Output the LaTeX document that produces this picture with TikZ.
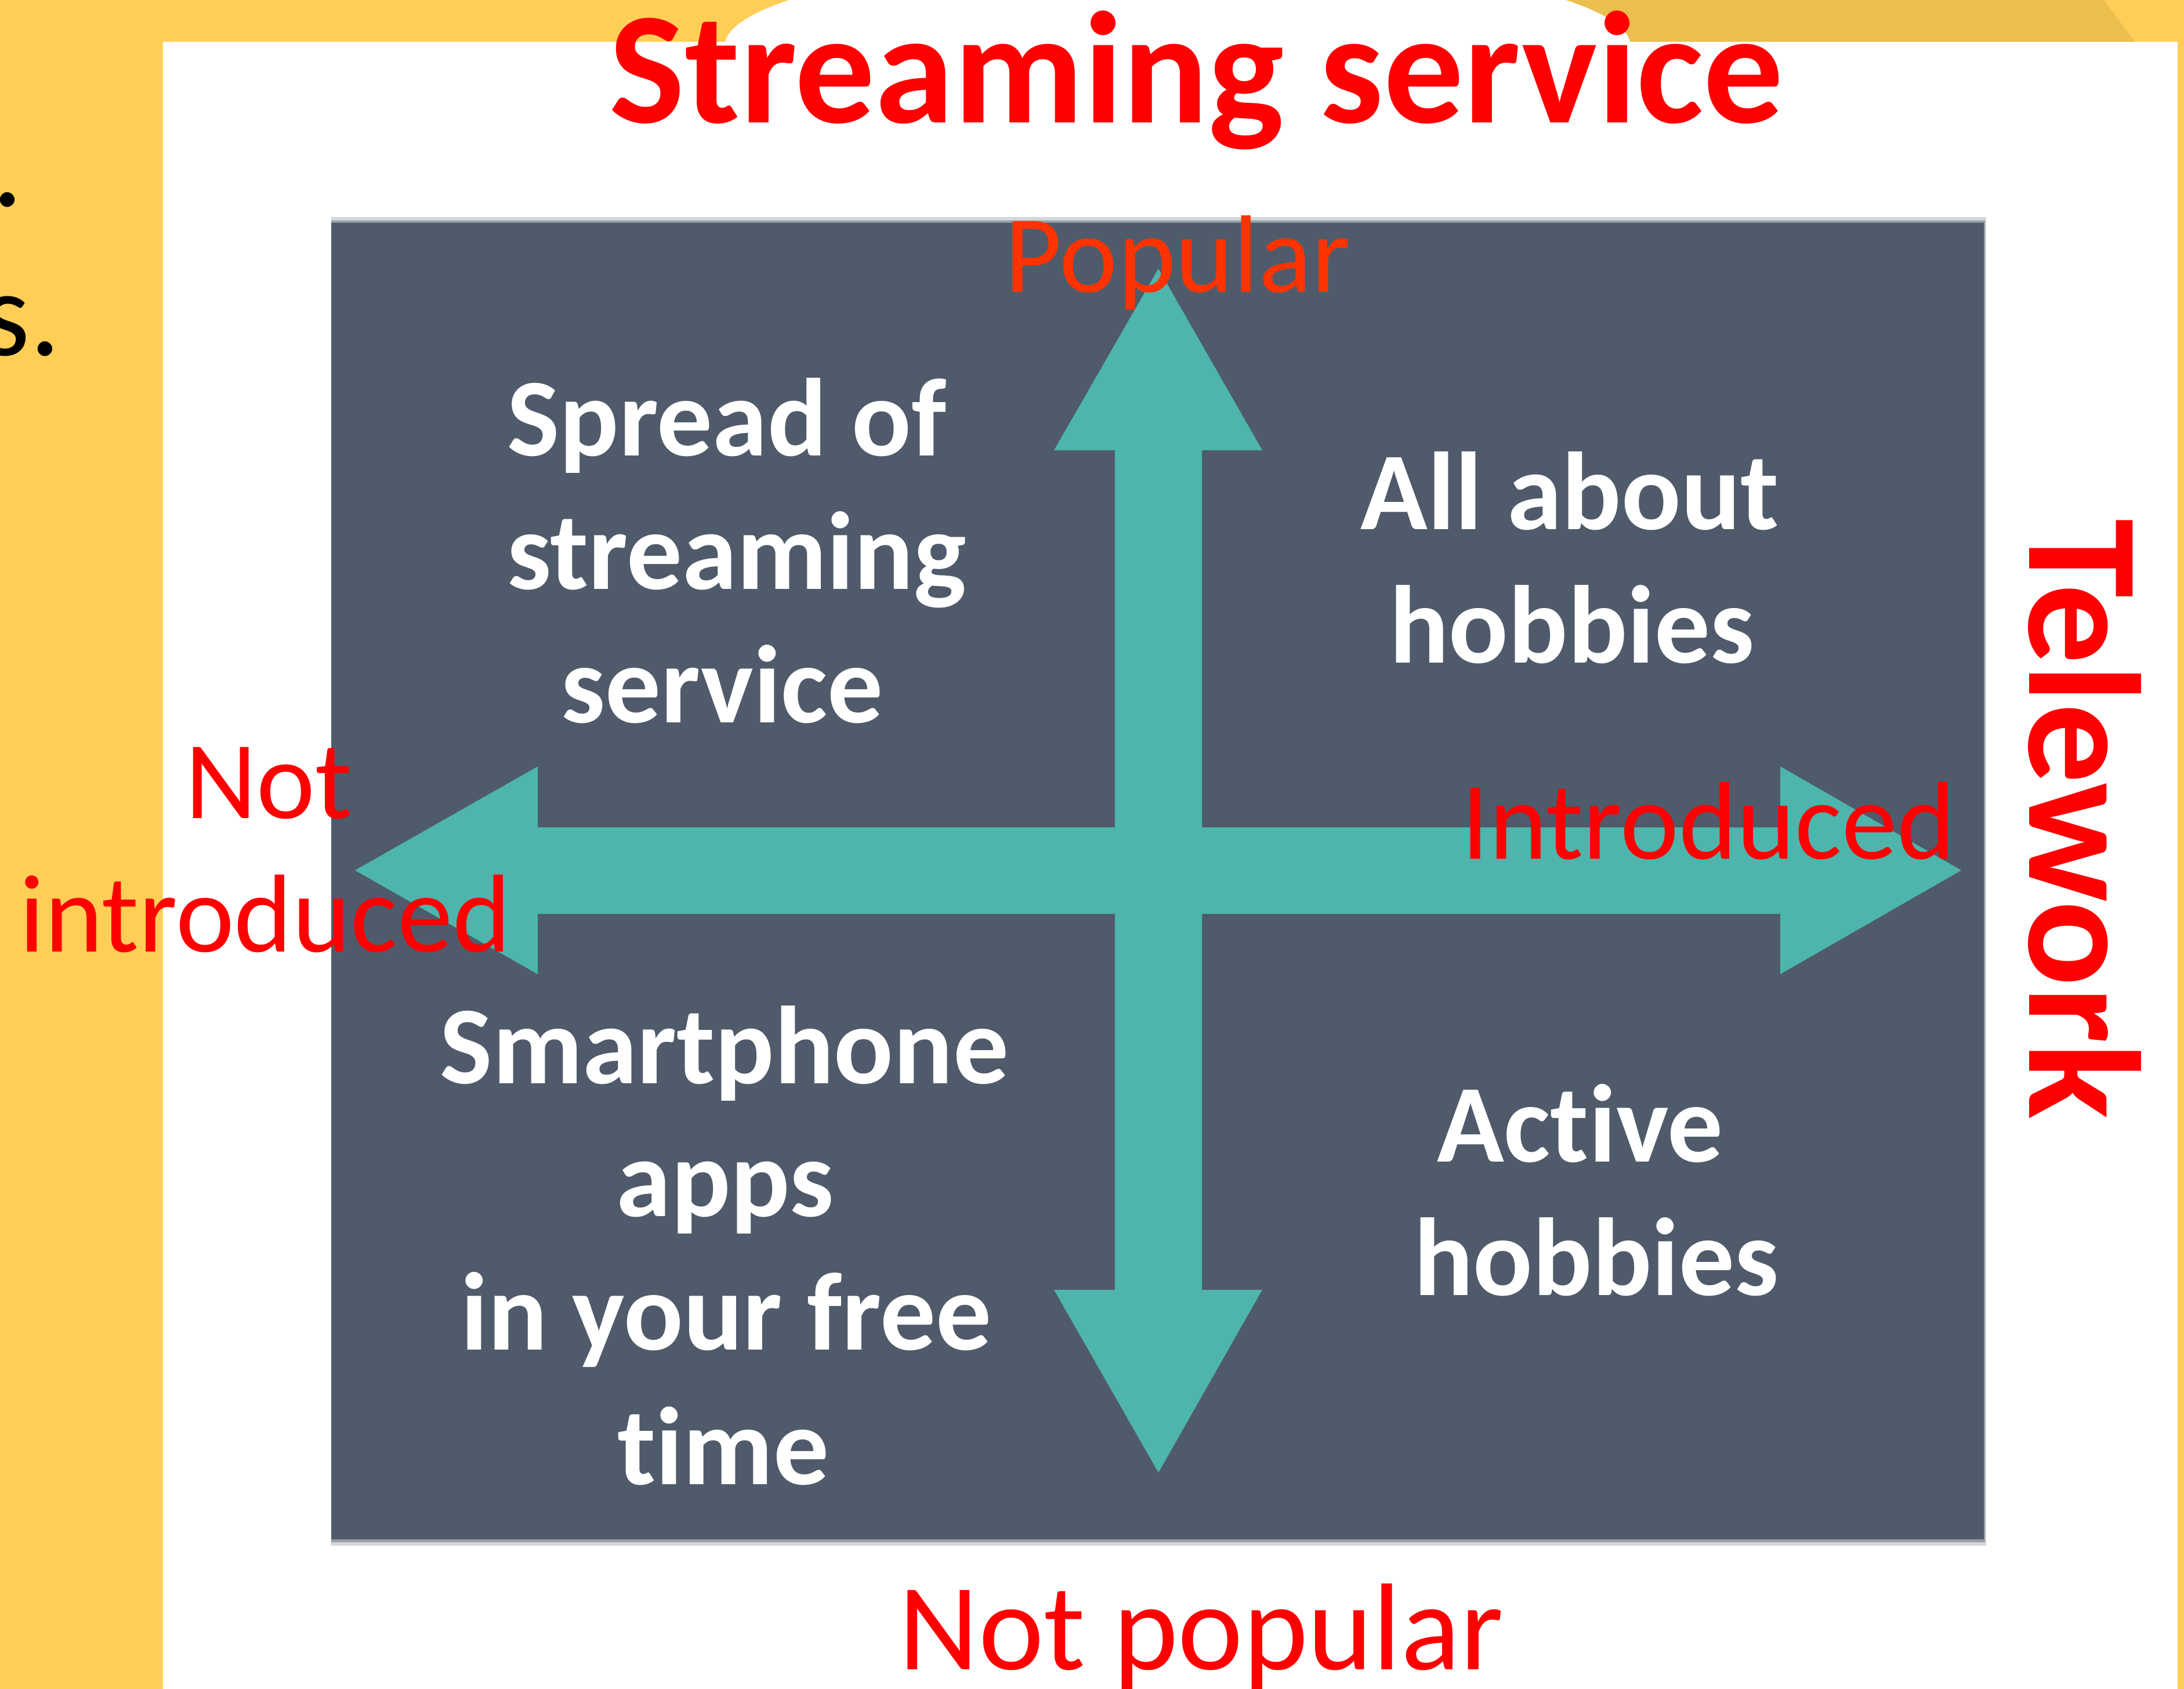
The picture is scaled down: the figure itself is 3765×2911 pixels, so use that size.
\documentclass[tikz,border=0pt]{standalone}
\usepackage{fontspec}
\setmainfont{Carlito}[RawFeature={-liga;-clig}]
\definecolor{bgyellow}{HTML}{FFCE57}
\definecolor{bandyellow}{HTML}{EBBE50}
\definecolor{slate}{HTML}{4F5B6A}
\definecolor{crossteal}{HTML}{4DB5AC}
\definecolor{lblred}{HTML}{FF0000}
\definecolor{lblorange}{HTML}{FF3300}
\begin{document}
\begin{tikzpicture}[x=0.1pt,y=-0.1pt,
  quad/.style={text=white,font=\fontsize{19.1}{23}\selectfont\bfseries,inner sep=0,anchor=base},
  axislbl/.style={text=lblred,font=\fontsize{19.1}{23}\selectfont,inner sep=0,anchor=base},
  titlelbl/.style={text=lblred,font=\fontsize{27.5}{33}\selectfont\bfseries,inner sep=0,anchor=base},
  edgetxt/.style={text=black,font=\fontsize{21}{25}\selectfont,inner sep=0,anchor=base east}]
\useasboundingbox (0,0) rectangle (3765,2911);
% background
\fill[bgyellow] (0,0) rectangle (3765,2911);
\fill[bandyellow] (2600,0) -- (3627,0) -- (3680,72) -- (2600,72) -- cycle;
\fill[white] (281,72) rectangle (3754,2911);
\fill[white] (2030,80) ellipse [x radius=781, y radius=155];
% cut-off text at left edge
\node[edgetxt] (dotone) at (42,355) {.};
\node[edgetxt] (dottwo) at (107,612) {s.};
% dark panel with soft edge
\fill[slate!25] (571,374) rectangle (3424,2664);
\fill[slate!60] (571,380) rectangle (3422,2658);
\fill[slate] (571,384) rectangle (3420,2653);
% four-way arrow
\fill[crossteal] (1997,463) -- (2176,776) -- (2072,776) -- (2072,1426) -- (3069,1426) -- (3069,1321)
  -- (3381,1500) -- (3069,1679) -- (3069,1575) -- (2072,1575) -- (2072,2223) -- (2176,2223)
  -- (1997,2538) -- (1817,2223) -- (1922,2223) -- (1922,1575) -- (927,1575) -- (927,1679)
  -- (612,1500) -- (927,1321) -- (927,1426) -- (1922,1426) -- (1922,776) -- (1817,776) -- cycle;
% quadrant texts
\node[quad] (q1a) at (1253,785) {Spread of};
\node[quad] (q1b) at (1270,1015) {streaming};
\node[quad] (q1c) at (1245,1245) {service};
\node[quad] (q2a) at (2706,912) {All about};
\node[quad] (q2b) at (2710,1143) {hobbies};
\node[quad] (q3a) at (1249,1867) {Smartphone};
\node[quad] (q3b) at (1250,2096) {apps};
\node[quad] (q3c) at (1252,2326) {in your free};
\node[quad] (q3d) at (1247,2558) {time};
\node[quad] (q4a) at (2724,2002) {Active};
\node[quad] (q4b) at (2752,2232) {hobbies};
% axis labels
\node[titlelbl] (title) at (2063,212) {Streaming service};
\node[titlelbl,rotate=-90] (telework) at (3498,1412) {Telework};
\node[axislbl,text=lblorange,font=\fontsize{19}{23}\selectfont] (popular) at (2030,503) {Popular};
\node[axislbl,font=\fontsize{21.3}{25}\selectfont] (notpopular) at (2071,2877) {Not popular};
\node[axislbl] (nota) at (463,1410) {Not};
\node[axislbl] (notb) at (457,1640) {introduced};
\node[axislbl] (intro) at (2945,1480) {Introduced};
\end{tikzpicture}
\end{document}
